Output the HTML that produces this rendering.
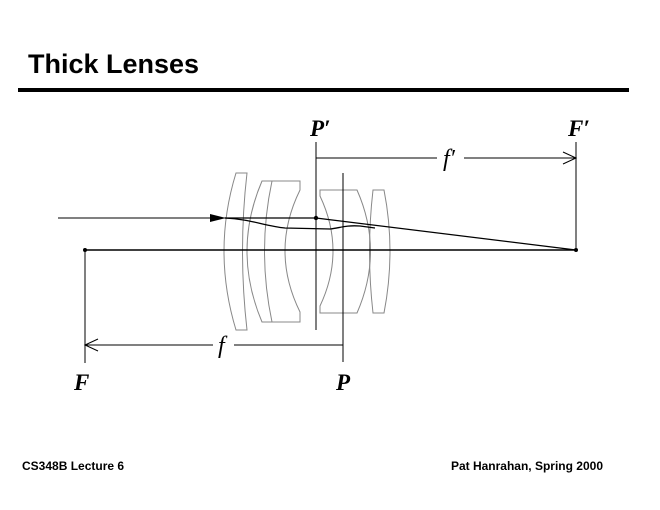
<!DOCTYPE html>
<html><head><meta charset="utf-8"><style>
html,body{margin:0;padding:0;background:#fff;width:660px;height:510px;overflow:hidden}
svg{display:block}
</style></head><body>
<svg width="660" height="510" viewBox="0 0 660 510" xmlns="http://www.w3.org/2000/svg">
<text x="28" y="73" font-family="Liberation Sans, sans-serif" font-weight="bold" font-size="27">Thick Lenses</text>
<rect x="18" y="88" width="611" height="4" fill="#000"/>
<g fill="none" stroke="#888" stroke-width="1">
<!-- lens1 -->
<path d="M236,173 Q212,251 236,330 L247,330 Q238,251 247,173 Z"/>
<!-- lens2 -->
<path d="M262,181 Q232,251 262,322 L300,322 L300,312 Q270,251 300,190 L300,181 Z"/>
<path d="M272,181 Q257,251 272,322"/>
<!-- lens3 -->
<path d="M320,190 L320,196 Q346,251 320,306 L320,313 L357,313 Q384,251 357,190 Z"/>
<!-- lens4 -->
<path d="M373,190 Q366,251 373,313 L384,313 Q396,251 384,190 Z"/>
</g>
<g stroke="#000" stroke-width="1" fill="none">
<line x1="316" y1="142" x2="316" y2="330"/>
<line x1="343" y1="173" x2="343" y2="362"/>
<line x1="576" y1="142" x2="576" y2="250"/>
<line x1="85" y1="250" x2="85" y2="363"/>
<line x1="85" y1="250" x2="576" y2="250" stroke-width="1.4"/>
<line x1="316" y1="158" x2="437" y2="158"/>
<line x1="464" y1="158" x2="576" y2="158"/>
<path d="M563,152 L576,158 L563,164"/>
<line x1="85" y1="345" x2="213" y2="345"/>
<line x1="234" y1="345" x2="343" y2="345"/>
<path d="M98,339 L85,345 L98,351"/>
<line x1="58" y1="218" x2="225" y2="218"/>
<line x1="225" y1="218" x2="316" y2="218" stroke-width="1.3"/>
<line x1="316" y1="218" x2="576" y2="250" stroke-width="1.3"/>
<path d="M225,218 C250,219 265,226 285,228 L330,229 C340,228 345,225 360,226 L375,228" stroke-width="1.3"/>
</g>
<path d="M210,214 L226,218 L210,222 Z" fill="#000"/>
<circle cx="316" cy="218" r="2.2" fill="#000"/>
<circle cx="576" cy="250" r="2" fill="#000"/>
<circle cx="85" cy="250" r="2" fill="#000"/>
<g font-family="Liberation Serif, serif" font-style="italic" font-weight="bold" font-size="23">
<text x="310" y="136">P′</text>
<text x="568" y="136">F′</text>
<text x="74" y="390">F</text>
<text x="336" y="390">P</text>
</g>
<g font-family="Liberation Serif, serif" font-style="italic" font-size="24">
<text x="443" y="166">f′</text>
<text x="218" y="353">f</text>
</g>
<g font-family="Liberation Sans, sans-serif" font-weight="bold" font-size="12">
<text x="22" y="470">CS348B Lecture 6</text>
<text x="603" y="470" text-anchor="end">Pat Hanrahan, Spring 2000</text>
</g>
</svg>
</body></html>
